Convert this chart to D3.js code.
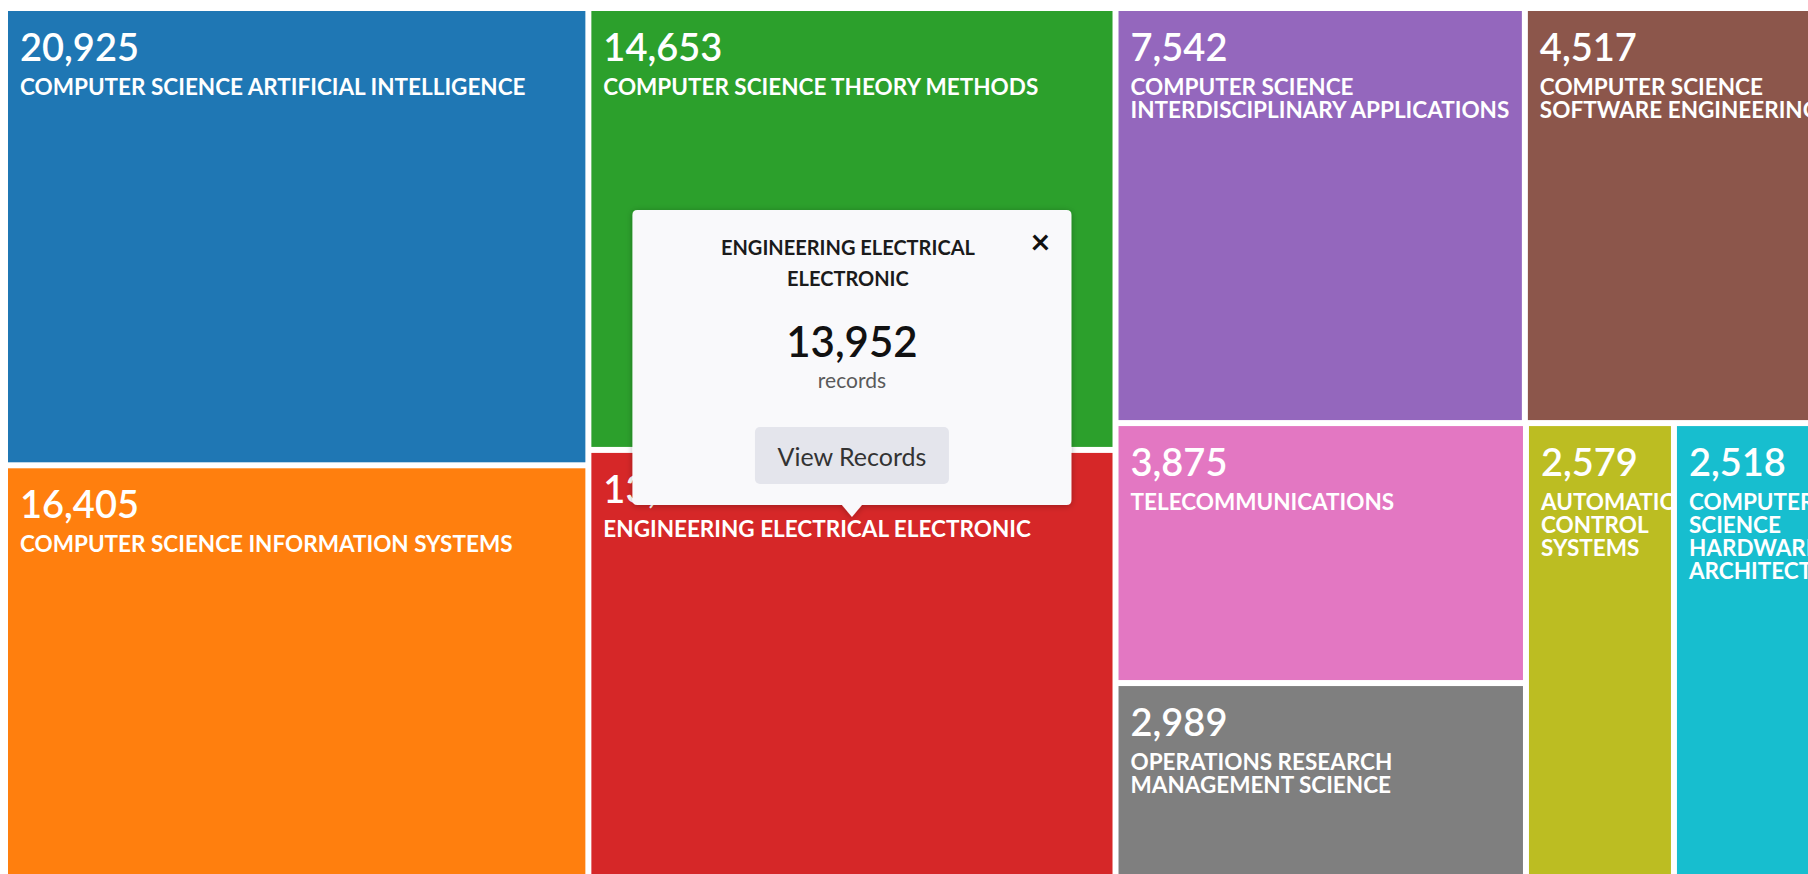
<!DOCTYPE html>
<html>
<head>
<meta charset="utf-8">
<script src="https://cdn.jsdelivr.net/npm/d3@7"></script>
<style>
  body { margin: 0; background: #fff; overflow: hidden; }
  svg { display: block; font-family: Lato, "Open Sans", sans-serif; }
</style>
</head>
<body>
<div id="treemap"></div>
<script>
// categories and record counts
var categories = [
  "COMPUTER SCIENCE ARTIFICIAL INTELLIGENCE",
  "COMPUTER SCIENCE INFORMATION SYSTEMS",
  "COMPUTER SCIENCE THEORY METHODS",
  "ENGINEERING ELECTRICAL ELECTRONIC",
  "COMPUTER SCIENCE INTERDISCIPLINARY APPLICATIONS",
  "COMPUTER SCIENCE SOFTWARE ENGINEERING",
  "TELECOMMUNICATIONS",
  "OPERATIONS RESEARCH MANAGEMENT SCIENCE",
  "AUTOMATION CONTROL SYSTEMS",
  "COMPUTER SCIENCE HARDWARE ARCHITECTURE"
];
var records = [20925, 16405, 14653, 13952, 7542, 4517, 3875, 2989, 2579, 2518];
var selectedCategory = "ENGINEERING ELECTRICAL ELECTRONIC";

var svgWidth = 1808;
var svgHeight = 874;
var margin = {top: 11, left: 8};
var mapWidth = 1806;
var mapHeight = 869;

var labelPad = 12;
var lineHeight = 23;
var fmt = d3.format(",");

var svg = d3.select("#treemap")
  .append("svg")
  .attr("width", svgWidth)
  .attr("height", svgHeight);

// tile area follows a log scale of the counts so the small fields stay readable
var sizeScale = d3.scaleLog()
  .domain([d3.min(records) / 2, d3.max(records)])
  .range([0, 1]);

var colorScale = d3.scaleOrdinal()
  .domain(categories)
  .range(d3.schemeCategory10);

var tableData = categories.map(function(c, i) {
  return {name: c, records: records[i]};
});

var root = d3.hierarchy({children: tableData})
  .sum(function(d) { return d.records ? sizeScale(d.records) : 0; })
  .sort(function(a, b) { return b.value - a.value; });

d3.treemap()
  .tile(d3.treemapSquarify)
  .size([mapWidth, mapHeight])
  .paddingInner(6)(root);

var chartGroup = svg.append("g")
  .attr("transform", `translate(${margin.left}, ${margin.top})`);

var tiles = chartGroup.selectAll("g.tile")
  .data(root.leaves())
  .enter()
  .append("g")
  .attr("class", "tile")
  .attr("transform", function(d) { return `translate(${d.x0},${d.y0})`; });

tiles.append("clipPath")
  .attr("id", function(d, i) { return "clip" + i; })
  .append("rect")
  .attr("width", function(d) { return d.x1 - d.x0; })
  .attr("height", function(d) { return d.y1 - d.y0; });

tiles.append("rect")
  .attr("width", function(d) { return d.x1 - d.x0; })
  .attr("height", function(d) { return d.y1 - d.y0; })
  .attr("fill", function(d) { return colorScale(d.data.name); });

var labels = tiles.append("g")
  .attr("clip-path", function(d, i) { return `url(#clip${i})`; })
  .style("fill", "#fff");

labels.append("text")
  .attr("x", labelPad)
  .attr("y", 50)
  .style("font-size", "38px")
  .style("font-weight", 600)
  .text(function(d) { return fmt(d.data.records); });

var names = labels.append("text")
  .attr("x", labelPad)
  .attr("y", 84)
  .style("font-size", "22.5px")
  .style("font-weight", 700);

// break the field name into lines that fit the tile
names.each(function(d) {
  var text = d3.select(this);
  var maxWidth = (d.x1 - d.x0) - 2;
  var words = d.data.name.split(" ");
  var line = [];
  var tspan = text.append("tspan").attr("x", labelPad).attr("dy", 0);
  words.forEach(function(word) {
    line.push(word);
    tspan.text(line.join(" "));
    if (tspan.node().getComputedTextLength() > maxWidth && line.length > 1) {
      line.pop();
      tspan.text(line.join(" "));
      line = [word];
      tspan = text.append("tspan").attr("x", labelPad).attr("dy", lineHeight).text(word);
    }
  });
});

// -----------------------------------------------------------------------------
// popup for the selected field
var sel = root.leaves().find(function(d) { return d.data.name === selectedCategory; });
var tipX = margin.left + (sel.x0 + sel.x1) / 2;
var tipY = margin.top + sel.y0 + 64;
var boxW = 439, boxH = 295, arrowH = 12, arrowW = 10, r = 5;

var defs = svg.append("defs");
var shadow = defs.append("filter")
  .attr("id", "popShadow")
  .attr("x", "-10%").attr("y", "-10%")
  .attr("width", "120%").attr("height", "130%");
shadow.append("feDropShadow")
  .attr("dx", 0).attr("dy", 1)
  .attr("stdDeviation", 3)
  .attr("flood-color", "#000")
  .attr("flood-opacity", 0.28);

var popup = svg.append("g")
  .attr("transform", `translate(${tipX - boxW / 2}, ${tipY - arrowH - boxH})`);

var ax = boxW / 2;
popup.append("path")
  .attr("d", `M${r},0 H${boxW - r} Q${boxW},0 ${boxW},${r} V${boxH - r} Q${boxW},${boxH} ${boxW - r},${boxH}` +
    ` H${ax + arrowW} L${ax},${boxH + arrowH} L${ax - arrowW},${boxH} H${r} Q0,${boxH} 0,${boxH - r} V${r} Q0,0 ${r},0 Z`)
  .attr("fill", "#f9f9fb")
  .attr("filter", "url(#popShadow)");

var title = popup.append("text")
  .attr("text-anchor", "middle")
  .style("font-size", "20px")
  .style("font-weight", 700)
  .style("fill", "#1b1b1b");

title.append("tspan").attr("x", ax - 4).attr("y", 45).text("ENGINEERING ELECTRICAL");
title.append("tspan").attr("x", ax - 4).attr("y", 76).text("ELECTRONIC");

popup.append("text")
  .attr("x", 408)
  .attr("y", 44)
  .attr("text-anchor", "middle")
  .style("font-size", "34px")
  .style("font-weight", 700)
  .style("fill", "#111")
  .text("×");

popup.append("text")
  .attr("x", ax)
  .attr("y", 147)
  .attr("text-anchor", "middle")
  .style("font-size", "42px")
  .style("font-weight", 600)
  .style("fill", "#111")
  .text(fmt(sel.data.records));

popup.append("text")
  .attr("x", ax)
  .attr("y", 178)
  .attr("text-anchor", "middle")
  .style("font-size", "21px")
  .style("fill", "#5a5a5a")
  .text("records");

popup.append("rect")
  .attr("x", ax - 97)
  .attr("y", 217)
  .attr("width", 194)
  .attr("height", 57)
  .attr("rx", 5)
  .attr("fill", "#e4e5ec");

popup.append("text")
  .attr("x", ax)
  .attr("y", 256)
  .attr("text-anchor", "middle")
  .style("font-size", "25px")
  .style("fill", "#333")
  .text("View Records");
</script>
</body>
</html>
